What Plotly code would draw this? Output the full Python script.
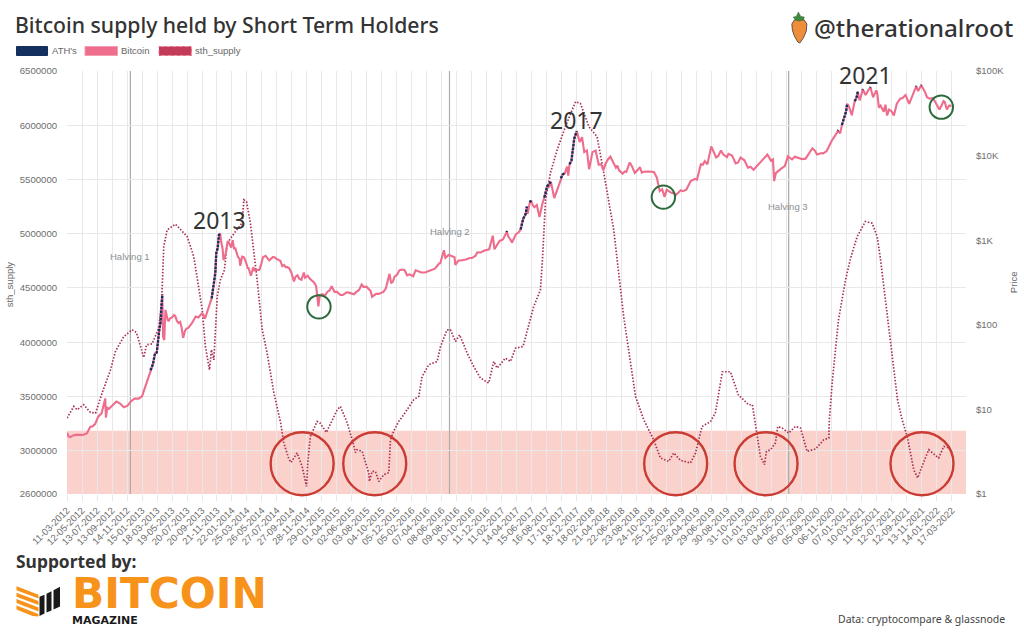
import datetime as dt
import plotly.graph_objects as go

W, H = 1024, 639
L, R, T, B = 66.5, 965.7, 71.0, 494.3

tick_labels = ["11-03-2012","12-05-2012","13-07-2012","13-09-2012","14-11-2012","15-01-2013","18-03-2013","19-05-2013","20-07-2013","20-09-2013","21-11-2013","22-01-2014","25-03-2014","26-05-2014","27-07-2014","27-09-2014","28-11-2014","29-01-2015","01-04-2015","02-06-2015","03-08-2015","04-10-2015","05-12-2015","05-02-2016","07-04-2016","08-06-2016","09-08-2016","10-10-2016","11-12-2016","11-02-2017","14-04-2017","15-06-2017","16-08-2017","17-10-2017","18-12-2017","18-02-2018","21-04-2018","22-06-2018","23-08-2018","24-10-2018","25-12-2018","25-02-2019","28-04-2019","29-06-2019","30-08-2019","31-10-2019","01-01-2020","03-03-2020","04-05-2020","05-07-2020","05-09-2020","06-11-2020","07-01-2021","10-03-2021","11-05-2021","12-07-2021","12-09-2021","13-11-2021","14-01-2022","17-03-2022"]

supply_ticks = [2600000,3000000,3500000,4000000,4500000,5000000,5500000,6000000,6500000]
price_ticks = [1,10,100,1000,10000,100000]
price_labels = ["$1","$10","$100","$1K","$10K","$100K"]

btc_dates = ["2012-03-11","2012-03-17","2012-03-25","2012-04-03","2012-04-15","2012-05-01","2012-05-15","2012-06-01","2012-06-15","2012-06-25","2012-07-05","2012-07-18","2012-08-01","2012-08-08","2012-08-16","2012-08-19","2012-08-24","2012-09-01","2012-09-15","2012-10-01","2012-10-15","2012-11-01","2012-11-15","2012-12-01","2012-12-15","2013-01-01","2013-01-15","2013-02-01","2013-02-19","2013-03-01","2013-03-10","2013-03-17","2013-03-28","2013-04-01","2013-04-09","2013-04-12","2013-04-17","2013-04-22","2013-05-01","2013-05-10","2013-05-20","2013-06-01","2013-06-15","2013-06-28","2013-07-04","2013-07-12","2013-07-25","2013-08-10","2013-08-25","2013-09-10","2013-09-25","2013-10-10","2013-10-30","2013-11-07","2013-11-14","2013-11-18","2013-11-24","2013-11-29","2013-12-04","2013-12-10","2013-12-18","2013-12-28","2014-01-10","2014-01-25","2014-02-05","2014-02-15","2014-02-25","2014-03-05","2014-03-20","2014-04-01","2014-04-10","2014-04-20","2014-05-01","2014-05-15","2014-05-30","2014-06-10","2014-06-25","2014-07-10","2014-07-25","2014-08-10","2014-08-18","2014-09-01","2014-09-15","2014-10-05","2014-10-20","2014-11-05","2014-11-15","2014-12-01","2014-12-20","2015-01-05","2015-01-14","2015-01-20","2015-02-01","2015-02-20","2015-03-10","2015-04-01","2015-04-15","2015-05-01","2015-05-20","2015-06-10","2015-07-01","2015-07-12","2015-08-01","2015-08-18","2015-08-24","2015-09-10","2015-10-01","2015-10-20","2015-11-04","2015-11-11","2015-11-25","2015-12-15","2016-01-05","2016-01-16","2016-02-01","2016-02-20","2016-03-15","2016-04-15","2016-05-10","2016-05-27","2016-06-16","2016-06-22","2016-07-05","2016-07-20","2016-08-02","2016-08-15","2016-09-15","2016-10-10","2016-11-01","2016-12-01","2016-12-20","2017-01-04","2017-01-11","2017-01-25","2017-02-15","2017-03-03","2017-03-10","2017-03-24","2017-04-10","2017-04-29","2017-05-05","2017-05-10","2017-05-20","2017-05-25","2017-05-28","2017-06-06","2017-06-11","2017-06-25","2017-07-05","2017-07-16","2017-07-25","2017-08-05","2017-08-12","2017-08-17","2017-08-25","2017-09-01","2017-09-15","2017-09-25","2017-10-12","2017-10-20","2017-10-29","2017-11-07","2017-11-12","2017-11-17","2017-11-25","2017-12-07","2017-12-17","2017-12-29","2018-01-08","2018-01-17","2018-01-28","2018-02-06","2018-02-20","2018-03-05","2018-03-18","2018-04-06","2018-04-25","2018-05-05","2018-05-28","2018-06-10","2018-06-25","2018-07-10","2018-07-24","2018-08-14","2018-09-04","2018-09-20","2018-10-10","2018-11-01","2018-11-13","2018-11-20","2018-11-25","2018-12-05","2018-12-15","2018-12-24","2019-01-10","2019-02-01","2019-02-20","2019-03-15","2019-04-02","2019-04-20","2019-05-14","2019-05-30","2019-06-10","2019-06-26","2019-07-16","2019-08-05","2019-08-30","2019-09-20","2019-10-05","2019-10-25","2019-11-10","2019-11-25","2019-12-18","2020-01-10","2020-02-13","2020-02-28","2020-03-07","2020-03-12","2020-03-19","2020-04-10","2020-05-08","2020-05-25","2020-06-20","2020-07-20","2020-08-05","2020-08-17","2020-09-05","2020-09-25","2020-10-15","2020-11-05","2020-12-01","2020-12-10","2020-12-17","2020-12-27","2021-01-03","2021-01-08","2021-01-27","2021-02-08","2021-02-15","2021-02-21","2021-02-28","2021-03-13","2021-03-25","2021-04-14","2021-04-25","2021-05-08","2021-05-19","2021-06-08","2021-06-15","2021-06-22","2021-07-20","2021-08-01","2021-08-15","2021-09-06","2021-09-21","2021-10-01","2021-10-20","2021-10-28","2021-11-10","2021-11-25","2021-12-04","2021-12-15","2022-01-10","2022-01-24","2022-02-10","2022-02-24","2022-03-05","2022-03-13"]
btc_price = [5.3,4.8,4.7,4.9,5.0,5.0,5.0,5.2,6.2,6.3,6.7,8.2,9.0,10.8,13.5,8.0,10.5,10.2,11.2,12.4,11.8,10.6,11.0,12.5,13.4,13.4,14.3,20,29,34,46,47,90,104,230,72,66,150,115,118,123,128,105,92,70,85,92,105,125,128,133,138,205,290,410,700,810,1150,1200,900,580,730,930,1000,800,640,500,640,560,465,380,480,445,445,630,655,575,635,600,570,495,480,470,325,385,340,415,380,330,285,165,225,230,245,285,245,225,230,240,230,258,300,282,250,215,232,240,270,400,310,370,440,445,385,385,440,415,430,460,530,760,620,670,650,510,575,590,615,720,755,780,1130,780,900,1020,1260,1090,935,1180,1340,1600,1800,2050,2500,2050,2800,2950,2450,2600,1880,2650,3200,4000,4350,4300,4900,3150,3800,5400,6000,6200,7400,5800,7800,8700,16000,19500,14500,16500,11000,11500,6900,11000,11500,7800,6700,9000,9700,7200,6700,6100,6400,8300,6250,7300,6450,6500,6400,5500,4400,3800,4000,3250,3950,3650,3450,3900,3950,5000,5300,7900,8600,7900,12800,9500,11500,9600,10000,8100,9500,8800,7200,6800,8000,10300,8700,9000,5000,6200,7000,9800,9000,9300,9200,11000,12200,10300,10700,11300,15000,19500,18300,23000,28000,33000,41000,30000,44000,48000,57000,45000,61000,52000,64000,49000,59000,37000,33000,40000,29800,29800,41000,47000,52000,41000,48000,66000,58000,68000,57000,49000,47000,41000,35000,44000,35000,39000,38000]

btc_detail_dates = ["2013-05-05","2013-05-27","2013-06-08","2013-06-22","2013-07-18","2013-08-18","2013-09-05","2013-09-18","2013-10-02","2013-10-20","2013-12-14","2013-12-24","2014-01-05","2014-01-18","2014-01-30","2014-02-22","2014-03-12","2014-03-28","2014-04-25","2014-05-22","2014-06-18","2014-07-18","2014-08-03","2014-08-25","2014-09-08","2014-09-25","2014-10-12","2014-10-27","2014-11-20","2014-12-10","2014-12-28","2015-02-10","2015-03-01","2015-03-22","2015-04-25","2015-05-10","2015-06-20","2015-07-20","2015-08-10","2015-09-20","2015-10-10","2015-11-18","2015-12-05","2015-12-25","2016-01-25","2016-02-10","2016-03-01","2016-03-30","2016-05-01","2016-06-01","2016-06-28","2016-07-12","2016-07-30","2016-08-25","2016-10-01","2016-10-25","2016-11-15","2017-02-01","2017-02-25","2017-03-18","2017-04-20","2017-06-18","2017-07-28","2018-03-28","2018-04-15","2018-05-15","2018-06-03","2018-07-03","2018-08-01","2018-08-25","2018-09-12","2018-10-20","2019-01-20","2019-03-01","2019-04-28","2019-05-22","2019-07-25","2019-08-15","2019-09-05","2019-10-15","2019-12-05","2020-01-20","2020-02-05","2020-04-25","2020-06-05","2020-07-05","2020-08-28","2020-10-01","2021-01-15","2021-03-05","2021-04-05","2021-05-12","2021-05-26","2021-06-30","2021-07-10","2021-08-25","2021-09-14","2021-10-10","2021-12-28","2022-01-05","2022-02-01","2022-02-15","2022-03-10"]
btc_detail_price = [110,130,112,108,90,115,122,135,118,165,800,640,980,820,800,600,630,470,440,510,600,625,590,510,480,410,370,350,360,350,315,220,255,245,225,242,245,280,265,232,245,325,390,450,395,375,430,415,450,535,640,660,630,575,615,655,715,980,1170,1020,1230,2600,2700,7900,8000,8500,7600,6500,7600,6700,6300,6450,3600,3800,5200,7800,9900,10300,10500,8300,7400,8700,9600,7500,9700,9100,11400,10600,38000,49000,59000,55000,39000,35000,33500,48000,45000,55000,48000,44000,38500,43000,39000]

ath_dates = ["2013-02-19","2013-03-01","2013-03-10","2013-03-17","2013-03-28","2013-04-01","2013-04-09",None,"2013-10-30","2013-11-07","2013-11-14","2013-11-18","2013-11-24","2013-11-29","2013-12-04",None,"2017-03-02","2017-03-04",None,"2017-04-29","2017-05-05","2017-05-10","2017-05-20","2017-05-25",None,"2017-06-06","2017-06-11",None,"2017-08-05","2017-08-12","2017-08-17","2017-09-01",None,"2017-10-12","2017-10-20","2017-10-29",None,"2017-11-17","2017-11-25","2017-12-07","2017-12-17",None,"2020-11-30","2020-12-02",None,"2020-12-17","2020-12-27","2021-01-03","2021-01-08",None,"2021-02-08","2021-02-15","2021-02-21",None,"2021-03-12","2021-03-14",None,"2021-04-13","2021-04-15",None,"2021-10-19","2021-10-21",None,"2021-11-09","2021-11-11"]
ath_price = [29,34,46,47,90,104,230,None,205,290,410,700,810,1150,1200,None,1250,1290,None,1340,1600,1800,2050,2500,None,2800,2950,None,3200,4000,4350,4900,None,5400,6000,6200,None,7900,8700,16000,19500,None,19700,20000,None,23000,28000,33000,41000,None,44000,48000,57000,None,60000,61000,None,63500,64500,None,65500,66500,None,67500,68000]

sth_day = [0,28,42,69,97,118,145,159,180,200,235,269,287,304,317,329,352,379,391,400,414,448,476,497,524,538,559,572,589,597,607,621,634,651,662,696,724,731,742,758,786,807,827,855,875,883,896,917,926,951,972,990,995,1006,1034,1045,1072,1096,1117,1130,1158,1185,1192,1199,1220,1247,1250,1261,1275,1289,1309,1330,1337,1351,1371,1392,1433,1454,1468,1495,1530,1544,1571,1585,1606,1623,1654,1681,1709,1743,1764,1778,1812,1833,1854,1885,1902,1929,1957,1966,1978,1998,2026,2060,2102,2122,2157,2191,2219,2260,2301,2350,2384,2425,2453,2487,2508,2536,2577,2598,2618,2625,2660,2680,2709,2742,2775,2817,2833,2850,2866,2883,2891,2908,2928,2938,2956,2983,3011,3032,3059,3094,3128,3149,3151,3164,3189,3218,3239,3266,3300,3328,3349,3362,3383,3404,3433,3452,3473,3500,3516,3534,3562,3603,3624,3649]
sth_supply = [3300,3407,3377,3423,3352,3346,3531,3623,3745,3914,4052,4114,4089,3960,3859,3976,3985,4130,4363,4881,5035,5088,5019,4973,4789,4605,4298,3960,3745,3930,3837,4421,4574,4667,4913,5019,5100,5312,5296,5100,4574,4114,3902,3533,3349,3257,3073,2923,2891,2978,2854,2670,2886,3131,3269,3257,3168,3285,3377,3407,3257,3054,2981,3008,2993,2796,2716,2808,2808,2716,2778,2796,3100,3183,3269,3331,3469,3499,3684,3791,3822,3960,4114,4114,4006,4068,3899,3776,3669,3623,3822,3761,3853,3822,3945,3960,4098,4328,4482,4789,5312,5558,5772,5987,6217,6202,5987,5895,5558,5035,4236,3499,3285,3100,2932,2901,2978,2910,2886,2978,3162,3223,3269,3349,3727,3727,3515,3423,3423,3162,2947,2870,2993,3008,3070,3223,3208,3162,3223,3208,2993,3015,3100,3116,3285,3653,4206,4574,4774,4973,5112,5097,4973,4774,4390,4022,3469,3285,3131,2824,2748,2854,3008,2932,3039,3024]
sth_supply = [v * 1000 for v in sth_supply]

halving_dates = ["2012-11-28","2016-07-09","2020-05-11"]
halving_names = ["Halving 1","Halving 2","Halving 3"]

start = dt.date(2012, 3, 11)
sth_dates = [(start + dt.timedelta(days=d)).isoformat() for d in sth_day]
tick_dates = [(start + dt.timedelta(days=62 * i)).isoformat() for i in range(len(tick_labels))]
assert len(btc_dates) == len(btc_price) and len(btc_detail_dates) == len(btc_detail_price)
assert len(ath_dates) == len(ath_price) and len(sth_day) == len(sth_supply)
btc_pairs = sorted(zip(btc_dates + btc_detail_dates, btc_price + btc_detail_price))
btc_x = [p[0] for p in btc_pairs]
btc_y = [p[1] for p in btc_pairs]

def X(px): return (px - L) / (R - L)
def Y(py): return (B - py) / (B - T)

fig = go.Figure()
fig.add_trace(go.Scatter(x=sth_dates, y=sth_supply, name="sth_supply", mode="lines",
                         line=dict(color="#A92F55", width=1.7, dash="1.5px,1.7px")))
fig.add_trace(go.Scatter(x=btc_x, y=btc_y, name="Bitcoin", mode="lines", yaxis="y2",
                         line=dict(color="#EE6C8C", width=2.1)))
fig.add_trace(go.Scatter(x=ath_dates, y=ath_price, name="ATH's", mode="lines", yaxis="y2",
                         connectgaps=False, line=dict(color="#14305F", width=2.4, dash="2.5px,1.2px")))

shapes = []
shapes.append(dict(type="rect", xref="paper", yref="paper", x0=0, x1=1, y0=0, y1=Y(431), layer="between",
                   fillcolor="rgba(244,130,110,0.36)", line=dict(width=0)))
for d in halving_dates:
    shapes.append(dict(type="line", xref="x", yref="paper", x0=d, x1=d, y0=0, y1=1, layer="between",
                       line=dict(color="#ABABAB", width=1.2)))
for cx in [301.7, 374.3, 675.3, 765.7, 921.7]:
    shapes.append(dict(type="circle", xref="paper", yref="paper", x0=X(cx-31.5), x1=X(cx+31.5), y0=Y(464+31.5), y1=Y(464-31.5),
                       line=dict(color="#C93B33", width=2.4)))
for cx, cy in [(318.5,307),(663,197.2),(941,107.2)]:
    shapes.append(dict(type="circle", xref="paper", yref="paper", x0=X(cx-11.7), x1=X(cx+11.7), y0=Y(cy+11.7), y1=Y(cy-11.7),
                       line=dict(color="#2C6B3C", width=2)))
for x0, x1, col, lc, dash in [(16,47,"#14305F","#14305F","solid"),(84.5,117,"#EF6D8D","#F59CB2","solid"),(158.5,191,"#C23B58","#EE6C8C","dot")]:
    shapes.append(dict(type="rect", xref="paper", yref="paper", x0=X(x0), x1=X(x1), y0=Y(55.5), y1=Y(46.5),
                       fillcolor=col, line=dict(color=lc, width=1, dash=dash)))

def poly(points, fill, line=None, lw=0):
    path = "M" + " L".join(f"{X(a):.5f},{Y(b):.5f}" for a, b in points) + " Z"
    shapes.append(dict(type="path", xref="paper", yref="paper", path=path, fillcolor=fill,
                       line=dict(color=line or fill, width=lw)))

# carrot
poly([(791.5,24),(794,20),(799,19),(804,20),(806.5,24),(806,31),(803,38),(799.5,43),(797.5,42),(794,36),(792,30)], "#EE8E3A", "#3A3A3A", 0.8)
poly([(795,20),(793,17),(796,16.5),(798,12),(800.5,16.5),(804,17),(803,20),(799,21)], "#3F8A3C", "#2E5E2E", 0.5)
# logo icon
poly([(16,586.5),(38,595),(38,599),(16,590.5)], "#F7931A")
poly([(16,593),(38,601.5),(38,605.5),(16,597)], "#F7931A")
poly([(16,599.5),(38,608),(38,612),(16,603.5)], "#F7931A")
poly([(16,606),(38,614.5),(38,617),(32,616.5),(16,610)], "#F7931A")
poly([(39,597),(44,595),(44,614),(39,616.5)], "#1A1A1A")
poly([(46,594),(51,591.5),(51,611),(46,613)], "#1A1A1A")
poly([(53,590.5),(59.5,587),(59.5,607),(53,610)], "#1A1A1A")

ann = []
def text(px, py, s, size, color, family="Liberation Sans", anchor="left", angle=0, weight=None):
    ann.append(dict(xref="paper", yref="paper", x=X(px), y=Y(py), text=s, showarrow=False, xanchor=anchor, yanchor="middle",
                    textangle=angle, font=dict(size=size, color=color, family=family, weight=weight)))

TITLE = "Noto Sans"
text(12.5, 24, "Bitcoin supply held by Short Term Holders", 21.2, "#333333", TITLE, weight=500)
text(812, 27, "@therationalroot", 24.3, "#333333", TITLE, weight=500)
text(49.5, 50.5, "ATH's", 9.5, "#666666")
text(118.5, 50.5, "Bitcoin", 9.5, "#666666")
text(192.5, 50.5, "sth_supply", 9.5, "#666666")
text(9, 285, "sth_supply", 9.5, "#666666", anchor="center", angle=-90)
text(1014, 282, "Price", 9.5, "#666666", anchor="center", angle=-90)
text(130, 257, halving_names[0], 9.5, "#8A8F94", anchor="center")
text(449.5, 232, halving_names[1], 9.5, "#8A8F94", anchor="center")
text(788, 207, halving_names[2], 9.5, "#8A8F94", anchor="center")
text(219, 220, "2013", 23, "#333333", "Noto Sans", anchor="center")
text(576, 120, "2017", 23, "#333333", "Noto Sans", anchor="center")
text(865, 75, "2021", 23, "#333333", "Noto Sans", anchor="center")
text(13.5, 561.5, "Supported by:", 17.4, "#333333", TITLE, weight=700)
text(69.5, 594, "BITCOIN", 42.3, "#F7931A", "DejaVu Sans", weight=700)
text(69.5, 620.5, "MAGAZINE", 11, "#1A1A1A", "DejaVu Sans", weight=700)
text(836, 619, "Data: cryptocompare & glassnode", 10.5, "#444444", TITLE)

tickfont = dict(size=9.6, color="#6E6E6E", family="Liberation Sans")
fig.update_layout(
    width=W, height=H, autosize=False, showlegend=False,
    paper_bgcolor="white", plot_bgcolor="white",
    margin=dict(l=L, r=W - R, t=T, b=H - B, pad=0, autoexpand=False),
    xaxis=dict(type="date", range=["2012-03-11", "2022-05-14"], tickmode="array", tickvals=tick_dates, ticktext=tick_labels,
               tickangle=-45, tickfont=tickfont, showgrid=True, gridcolor="#E8E8E8", gridwidth=1,
               ticks="outside", ticklen=6, tickcolor="#E8E8E8", zeroline=False, showline=False),
    yaxis=dict(range=[2600000, 6500000], tickmode="array", tickvals=supply_ticks, ticktext=[str(v) for v in supply_ticks],
               tickfont=tickfont, showgrid=True, gridcolor="#E8E8E8", gridwidth=1, ticks="outside", ticklen=7,
               tickcolor="rgba(0,0,0,0)", zeroline=False, showline=False),
    yaxis2=dict(type="log", range=[0, 5], overlaying="y", side="right", tickmode="array", tickvals=price_ticks, ticktext=price_labels,
                tickfont=tickfont, showgrid=False, ticks="outside", ticklen=7, tickcolor="rgba(0,0,0,0)", zeroline=False, showline=False),
    shapes=shapes, annotations=ann,
)
fig.write_html("out.html", config={"displayModeBar": False},
               post_script="document.body.style.margin='0';document.body.style.overflow='hidden';")
